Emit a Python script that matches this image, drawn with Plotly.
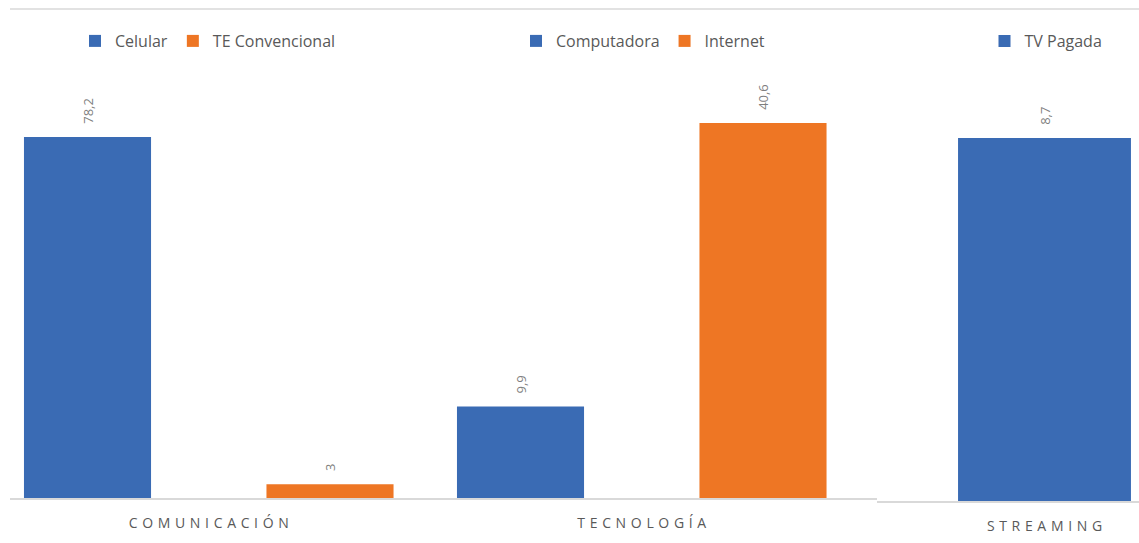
import plotly.graph_objects as go

# Three small Excel-style charts side by side, each with its own scale
categories = ["COMUNICACIÓN", "TECNOLOGÍA", "STREAMING"]

comunicacion_series = ["Celular", "TE Convencional"]
comunicacion_values = [78.2, 3]

tecnologia_series = ["Computadora", "Internet"]
tecnologia_values = [9.9, 40.6]

streaming_series = ["TV Pagada"]
streaming_values = [8.7]

BLUE = '#3A6BB4'
ORANGE = '#EE7624'
GRAY_TEXT = '#595959'
AXIS_GRAY = '#D9D9D9'
FONT = 'Open Sans, Liberation Sans, sans-serif'

W, H = 1139, 543


def label(v):
    # comma decimal separator, padded so it floats a bit above the bar
    return '\u00a0\u00a0\u00a0' + f'{v:g}'.replace('.', ',')


def spaced(s):
    # letter-spaced category names like the original
    return '\u2004'.join(s)


panels = [
    (comunicacion_series, comunicacion_values, [BLUE, ORANGE]),
    (tecnologia_series, tecnologia_values, [BLUE, ORANGE]),
    (streaming_series, streaming_values, [BLUE]),
]

fig = go.Figure()

for i, (cat, (names, values, colors)) in enumerate(zip(categories, panels)):
    suffix = '' if i == 0 else str(i + 1)
    for name, val, col in zip(names, values, colors):
        fig.add_trace(go.Bar(
            x=[spaced(cat)],
            y=[val],
            name=name,
            offsetgroup=name,
            marker=dict(color=col, line=dict(width=0)),
            text=[label(val)],
            textposition='outside',
            textangle=-90,
            constraintext='none',
            cliponaxis=False,
            textfont=dict(size=13, color='#7F7F7F', family=FONT),
            xaxis='x' + suffix,
            yaxis='y' + suffix,
            legend='legend' + suffix,
        ))

# pixel layout of each panel: (domain left, domain right, group centre, px per unit)
px_layout = [(10, 430, 208.75, 485), (420, 877, 641.75, 485), (877, 1139, 1044.5, 330)]
# (baseline distance from bottom, y max)
y_layout = [(45, 86.2), (45, 43.09), (42, 9.61)]
legend_x = [208, 643, 1046]

layout = dict(
    width=W,
    height=H,
    margin=dict(l=0, r=0, t=0, b=0),
    paper_bgcolor='white',
    plot_bgcolor='white',
    barmode='group',
    bargap=0,
    bargroupgap=0.476,
    font=dict(family=FONT, color=GRAY_TEXT),
    shapes=[dict(type='line', xref='paper', yref='paper',
                 x0=10 / W, x1=1, y0=1 - 9 / H, y1=1 - 9 / H,
                 line=dict(color=AXIS_GRAY, width=1.5))],
)

for i in range(3):
    suffix = '' if i == 0 else str(i + 1)
    l, r, c, u = px_layout[i]
    b, ymax = y_layout[i]
    layout['xaxis' + suffix] = dict(
        domain=[l / W, r / W],
        range=[(l - c) / u, (r - c) / u],
        anchor='y' + suffix,
        showline=True,
        linecolor=AXIS_GRAY,
        linewidth=1.5,
        showgrid=False,
        zeroline=False,
        ticks='outside',
        ticklen=11,
        tickcolor='rgba(0,0,0,0)',
        tickfont=dict(size=14, color=GRAY_TEXT, family=FONT),
        fixedrange=True,
    )
    layout['yaxis' + suffix] = dict(
        domain=[b / H, 1 - 100 / H],
        range=[0, ymax],
        anchor='x' + suffix,
        visible=False,
        fixedrange=True,
    )
    layout['legend' + suffix] = dict(
        orientation='h',
        x=legend_x[i] / W,
        xanchor='center',
        y=1 - 41 / H,
        yanchor='middle',
        font=dict(size=16, color=GRAY_TEXT, family=FONT),
        bgcolor='rgba(0,0,0,0)',
        itemwidth=30,
    )

fig.update_layout(**layout)
fig.write_html("out.html", config={'displayModeBar': False},
               post_script="document.body.style.margin='0';")
